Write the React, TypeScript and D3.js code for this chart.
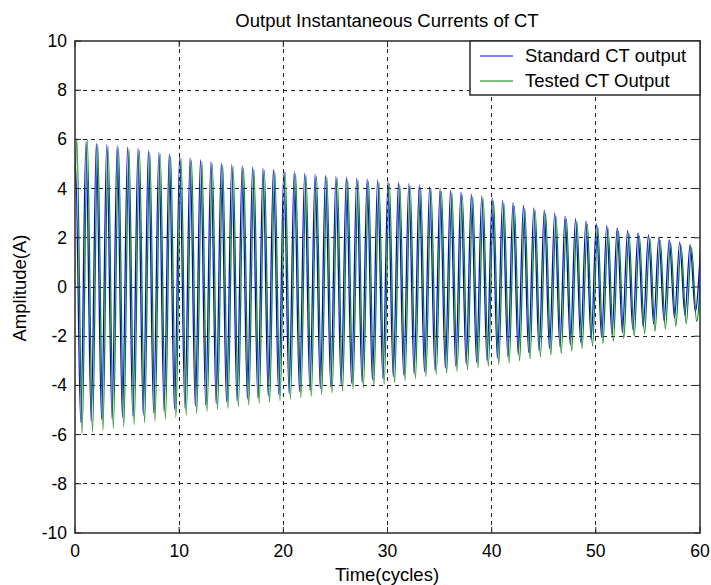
import React from "react";
import * as d3 from "d3";

// ---- data ----
const title = "Output Instantaneous Currents of CT";
const xLabel = "Time(cycles)";
const yLabel = "Amplitude(A)";
const xTicks = [0, 10, 20, 30, 40, 50, 60];
const yTicks = [-10, -8, -6, -4, -2, 0, 2, 4, 6, 8, 10];
const seriesNames = ["Standard CT output", "Tested CT Output"];

// start value at t=0 and time lag of the first crest (cycles)
const standardStart = 4.8;
const standardLag = 0.05;
const testedStart = 4.0;
const testedLag = 0.18;

// positive crest of every cycle (k = 0..60)
const standardPeaks = [
  5.0, 5.9, 5.85, 5.8, 5.75, 5.7, 5.65, 5.55, 5.48, 5.4, 5.32, 5.25, 5.18, 5.1, 5.03, 4.97,
  4.92, 4.87, 4.82, 4.78, 4.74, 4.68, 4.62, 4.58, 4.54, 4.5, 4.47, 4.43, 4.4, 4.35, 4.3,
  4.25, 4.2, 4.15, 4.08, 4.0, 3.93, 3.86, 3.78, 3.7, 3.62, 3.52, 3.42, 3.32, 3.22, 3.12,
  3.0, 2.88, 2.78, 2.68, 2.58, 2.5, 2.4, 2.3, 2.2, 2.12, 2.02, 1.92, 1.82, 1.72, 1.62,
];
// negative trough of every cycle (k = 0..59)
const standardTroughs = [
  -5.5, -5.45, -5.4, -5.35, -5.3, -5.25, -5.2, -5.12, -5.05, -4.98, -4.92, -4.86, -4.8, -4.74,
  -4.68, -4.62, -4.56, -4.5, -4.44, -4.38, -4.32, -4.26, -4.2, -4.13, -4.06, -3.99, -3.92,
  -3.85, -3.78, -3.71, -3.64, -3.58, -3.52, -3.45, -3.38, -3.3, -3.22, -3.14, -3.06, -2.98,
  -2.9, -2.82, -2.74, -2.66, -2.58, -2.5, -2.42, -2.35, -2.25, -2.15, -2.05, -1.95, -1.84,
  -1.73, -1.62, -1.5, -1.38, -1.26, -1.14, -1.0,
];
const testedPeaks = [
  6.02, 6.0, 5.8, 5.72, 5.67, 5.62, 5.56, 5.47, 5.4, 5.32, 5.24, 5.17, 5.1, 5.02, 4.95, 4.89,
  4.84, 4.79, 4.74, 4.7, 4.66, 4.6, 4.54, 4.5, 4.46, 4.42, 4.38, 4.34, 4.3, 4.25, 4.2,
  4.15, 4.1, 4.04, 3.97, 3.9, 3.83, 3.75, 3.67, 3.59, 3.5, 3.4, 3.3, 3.2, 3.1, 3.0,
  2.88, 2.76, 2.66, 2.56, 2.46, 2.37, 2.28, 2.18, 2.08, 1.99, 1.9, 1.8, 1.7, 1.6, 1.5,
];
const testedTroughs = [
  -5.95, -5.9, -5.82, -5.75, -5.68, -5.6, -5.52, -5.45, -5.38, -5.3, -5.22, -5.14, -5.06,
  -4.98, -4.92, -4.86, -4.8, -4.74, -4.68, -4.62, -4.56, -4.5, -4.44, -4.37, -4.3, -4.23,
  -4.16, -4.09, -4.02, -3.95, -3.88, -3.8, -3.72, -3.64, -3.56, -3.5, -3.43, -3.36, -3.29,
  -3.22, -3.15, -3.08, -3.0, -2.92, -2.84, -2.76, -2.7, -2.6, -2.5, -2.4, -2.3, -2.2, -2.1,
  -2.0, -1.9, -1.8, -1.7, -1.6, -1.5, -1.4,
];

type Pt = { t: number; v: number };
function buildPoints(start: number, lag: number, peaks: number[], troughs: number[]): Pt[] {
  const pts: Pt[] = [{ t: 0, v: start }];
  peaks.forEach((p, k) => {
    pts.push({ t: k + lag, v: p });
    if (k < troughs.length) pts.push({ t: k + lag + 0.5, v: troughs[k] });
  });
  return pts;
}

const L = 75, R = 700, T = 41, B = 533;
const FONT = "'Liberation Sans', Arial, Helvetica, sans-serif";

export default function App() {
  const x = d3.scaleLinear().domain([0, 60]).range([L, R]);
  const y = d3.scaleLinear().domain([-10, 10]).range([B, T]);
  const line = d3
    .line<Pt>()
    .x((d) => x(d.t))
    .y((d) => y(d.v))
    .curve(d3.curveMonotoneX);

  const std = buildPoints(standardStart, standardLag, standardPeaks, standardTroughs);
  const tst = buildPoints(testedStart, testedLag, testedPeaks, testedTroughs);
  const colors = ["#0000ff", "#008000"];

  return (
    <svg width={711} height={585} style={{ position: "absolute", left: 0, top: 0, background: "#fff" }}>
      <rect x={0} y={0} width={711} height={585} fill="#fff" />
      <defs>
        <clipPath id="plotClip">
          <rect x={L} y={T} width={R - L} height={B - T} />
        </clipPath>
      </defs>
      {/* grid */}
      <g stroke="#222" strokeWidth={1} strokeDasharray="4,4" shapeRendering="crispEdges">
        {xTicks.slice(1, -1).map((t) => (
          <line key={"gx" + t} x1={x(t)} x2={x(t)} y1={T} y2={B} />
        ))}
        {yTicks.slice(1, -1).map((t) => (
          <line key={"gy" + t} x1={L} x2={R} y1={y(t)} y2={y(t)} />
        ))}
      </g>
      {/* series */}
      <g clipPath="url(#plotClip)" fill="none" strokeWidth={1.25}>
        <path d={line(std) || ""} stroke={colors[0]} />
        <path d={line(tst) || ""} stroke={colors[1]} />
      </g>
      {/* frame + ticks */}
      <rect x={L} y={T} width={R - L} height={B - T} fill="none" stroke="#2a2a2a" strokeWidth={1.5} />
      <g stroke="#2a2a2a" strokeWidth={1}>
        {xTicks.map((t) => (
          <g key={"tx" + t}>
            <line x1={x(t)} x2={x(t)} y1={B} y2={B - 6} />
            <line x1={x(t)} x2={x(t)} y1={T} y2={T + 6} />
          </g>
        ))}
        {yTicks.map((t) => (
          <g key={"ty" + t}>
            <line x1={L} x2={L + 6} y1={y(t)} y2={y(t)} />
            <line x1={R} x2={R - 6} y1={y(t)} y2={y(t)} />
          </g>
        ))}
      </g>
      {/* tick labels */}
      <g fontFamily={FONT} fontSize={17.5} fill="#000">
        {xTicks.map((t) => (
          <text key={"lx" + t} x={x(t)} y={557} textAnchor="middle">
            {t}
          </text>
        ))}
        {yTicks.map((t) => (
          <text key={"ly" + t} x={67} y={y(t)} textAnchor="end" dominantBaseline="central">
            {t}
          </text>
        ))}
      </g>
      {/* titles */}
      <text x={387} y={27} textAnchor="middle" fontFamily={FONT} fontSize={18.5}>
        {title}
      </text>
      <text x={387} y={581} textAnchor="middle" fontFamily={FONT} fontSize={18.5}>
        {xLabel}
      </text>
      <text
        transform={`translate(26,288) rotate(-90)`}
        textAnchor="middle"
        fontFamily={FONT}
        fontSize={18.5}
      >
        {yLabel}
      </text>
      {/* legend */}
      <rect x={470} y={T} width={R - 470} height={54} fill="#fff" stroke="#2a2a2a" strokeWidth={1.5} />
      {seriesNames.map((n, i) => (
        <g key={n}>
          <line x1={480} x2={513} y1={56 + i * 25} y2={56 + i * 25} stroke={colors[i]} strokeWidth={1} />
          <text x={525} y={62 + i * 25} fontFamily={FONT} fontSize={18.5}>
            {n}
          </text>
        </g>
      ))}
    </svg>
  );
}
